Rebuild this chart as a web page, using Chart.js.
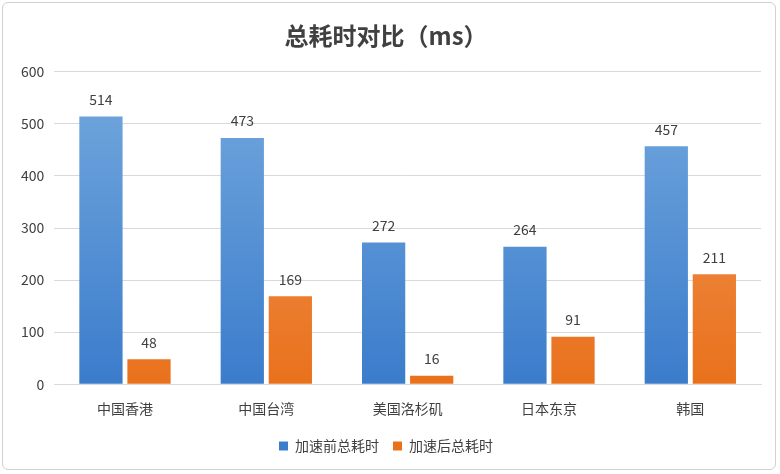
<!DOCTYPE html>
<html>
<head>
<meta charset="utf-8">
<script src="https://cdn.jsdelivr.net/npm/chart.js@4/dist/chart.umd.min.js"></script>
<style>
  html, body { margin: 0; padding: 0; background: #fff; }
  #wrap { position: absolute; left: 2px; top: 2px; width: 774px; height: 468px;
          border: 1px solid #d0d0d0; border-radius: 6px; box-sizing: border-box; }
</style>
</head>
<body>
<div id="wrap"><canvas id="chart"></canvas></div>
<script>
const categories = ['中国香港', '中国台湾', '美国洛杉矶', '日本东京', '韩国'];
const beforeValues = [514, 473, 272, 264, 457];
const afterValues = [48, 169, 16, 91, 211];
const yTicks = [0, 100, 200, 300, 400, 500, 600];

const FONT = '"Noto Sans CJK SC", "Noto Sans", sans-serif';

// 柱子渐变色
function gradient(ctx, top, bottom) {
    const area = ctx.chart.chartArea;
    if (!area) return bottom;
    const g = ctx.chart.ctx.createLinearGradient(0, area.top, 0, area.bottom);
    g.addColorStop(0, top);
    g.addColorStop(1, bottom);
    return g;
}

// 数值标签
const valueLabels = {
    id: 'valueLabels',
    afterDatasetsDraw(chart) {
        const c = chart.ctx;
        c.save();
        c.font = '14px ' + FONT;
        c.fillStyle = '#404040';
        c.textAlign = 'center';
        c.textBaseline = 'bottom';
        chart.data.datasets.forEach((ds, i) => {
            chart.getDatasetMeta(i).data.forEach((bar, j) => {
                c.fillText(ds.data[j], bar.x, bar.y - 10);
            });
        });
        c.restore();
    }
};

new Chart(document.getElementById('chart'), {
    type: 'bar',
    data: {
        labels: categories,
        datasets: [{
            label: '加速前总耗时',
            data: beforeValues,
            backgroundColor: ctx => gradient(ctx, '#74a9de', '#3b7ccb')
        }, {
            label: '加速后总耗时',
            data: afterValues,
            backgroundColor: ctx => gradient(ctx, '#f29a5f', '#e9711c')
        }]
    },
    options: {
        responsive: true,
        maintainAspectRatio: false,
        animation: false,
        layout: { padding: { left: 8, right: 14, top: 4, bottom: 6 } },
        datasets: { bar: { categoryPercentage: 0.68, barPercentage: 0.9 } },
        plugins: {
            title: {
                display: true,
                text: '总耗时对比（ms）',
                color: '#404040',
                font: { family: FONT, size: 24 },
                padding: { top: 14, bottom: 22 }
            },
            legend: {
                position: 'bottom',
                labels: { boxWidth: 9, boxHeight: 9, color: '#404040',
                          font: { family: FONT, size: 14 }, padding: 14 }
            },
            tooltip: { enabled: false }
        },
        scales: {
            y: {
                min: 0, max: 600,
                afterBuildTicks: axis => { axis.ticks = yTicks.map(v => ({ value: v })); },
                ticks: { color: '#404040', font: { family: FONT, size: 14 }, padding: 10 },
                grid: { color: '#d9d9d9', drawTicks: false },
                border: { display: false }
            },
            x: {
                ticks: { color: '#404040', font: { family: FONT, size: 14 }, padding: 8 },
                grid: { display: false },
                border: { color: '#d9d9d9' }
            }
        }
    },
    plugins: [valueLabels]
});
</script>
</body>
</html>
